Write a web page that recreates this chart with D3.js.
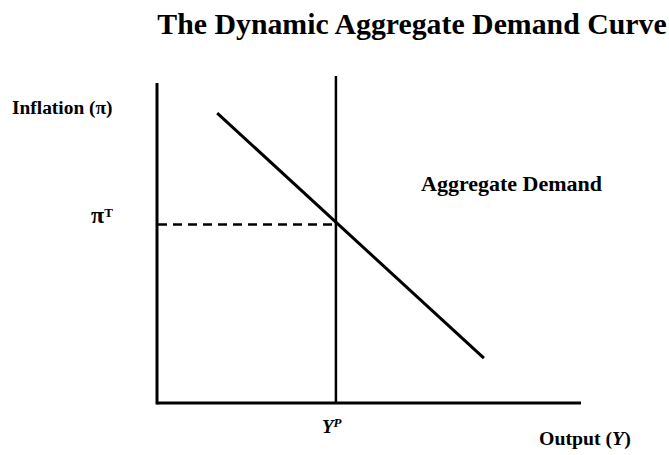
<!DOCTYPE html>
<html><head><meta charset="utf-8">
<script src="https://cdn.jsdelivr.net/npm/d3@7"></script>
<style>body{margin:0;background:#fff}text{font-family:"Liberation Serif","Times New Roman",serif;font-weight:bold;fill:#000}</style>
</head><body><svg id="c" width="669" height="455"></svg>
<script>
const xDomain = [0, 10];
const yDomain = [0, 10];
const potentialOutput = 4.22;     // Y^P
const targetInflation = 5.58;     // pi^T
const verticalTop = 10.22;
const adCurve = [ {x: 1.42, y: 9.06}, {x: 7.71, y: 1.40} ];

const svg = d3.select("#c");
const x = d3.scaleLinear().domain(xDomain).range([157, 581]);
const y = d3.scaleLinear().domain(yDomain).range([403, 83]);

// title
svg.append("text").attr("x", 412).attr("y", 34).attr("text-anchor","middle")
  .style("font-size","29.8px").text("The Dynamic Aggregate Demand Curve");

// axes
svg.append("line").attr("x1", x(0)).attr("x2", x(0)).attr("y1", y(yDomain[1])).attr("y2", y(0)+1.5)
  .attr("stroke","#000").attr("stroke-width",3);
svg.append("line").attr("x1", x(0)).attr("x2", x(xDomain[1])).attr("y1", y(0)).attr("y2", y(0))
  .attr("stroke","#000").attr("stroke-width",3);

// potential output vertical
svg.append("line").attr("x1", x(potentialOutput)).attr("x2", x(potentialOutput))
  .attr("y1", y(verticalTop)).attr("y2", y(0)).attr("stroke","#000").attr("stroke-width",2.5);

// dashed target inflation
svg.append("line").attr("x1", x(0)+1).attr("x2", x(potentialOutput)).attr("y1", y(targetInflation)).attr("y2", y(targetInflation))
  .attr("stroke","#000").attr("stroke-width",2.5).attr("stroke-dasharray","9,6");

// AD curve
svg.append("path").datum(adCurve)
  .attr("d", d3.line().x(d=>x(d.x)).y(d=>y(d.y)))
  .attr("stroke","#000").attr("stroke-width",3).attr("fill","none");

// labels
svg.append("text").attr("x", 12).attr("y", 114).style("font-size","19.4px").text("Inflation (π)");
const pt = svg.append("text").attr("x", 91).attr("y", 223).style("font-size","24px");
pt.append("tspan").text("π");
pt.append("tspan").attr("dy",-6).style("font-size","13px").text("T");

svg.append("text").attr("x", 421).attr("y", 191).style("font-size","22px").text("Aggregate Demand");

const yp = svg.append("text").attr("x", 322).attr("y", 433).style("font-size","19px");
yp.append("tspan").style("font-style","italic").text("Y");
yp.append("tspan").attr("dy",-6).style("font-size","13px").style("font-style","italic").text("P");

const out = svg.append("text").attr("x", 539).attr("y", 445).style("font-size","19.8px");
out.append("tspan").text("Output (");
out.append("tspan").style("font-style","italic").text("Y");
out.append("tspan").text(")");
</script></body></html>
